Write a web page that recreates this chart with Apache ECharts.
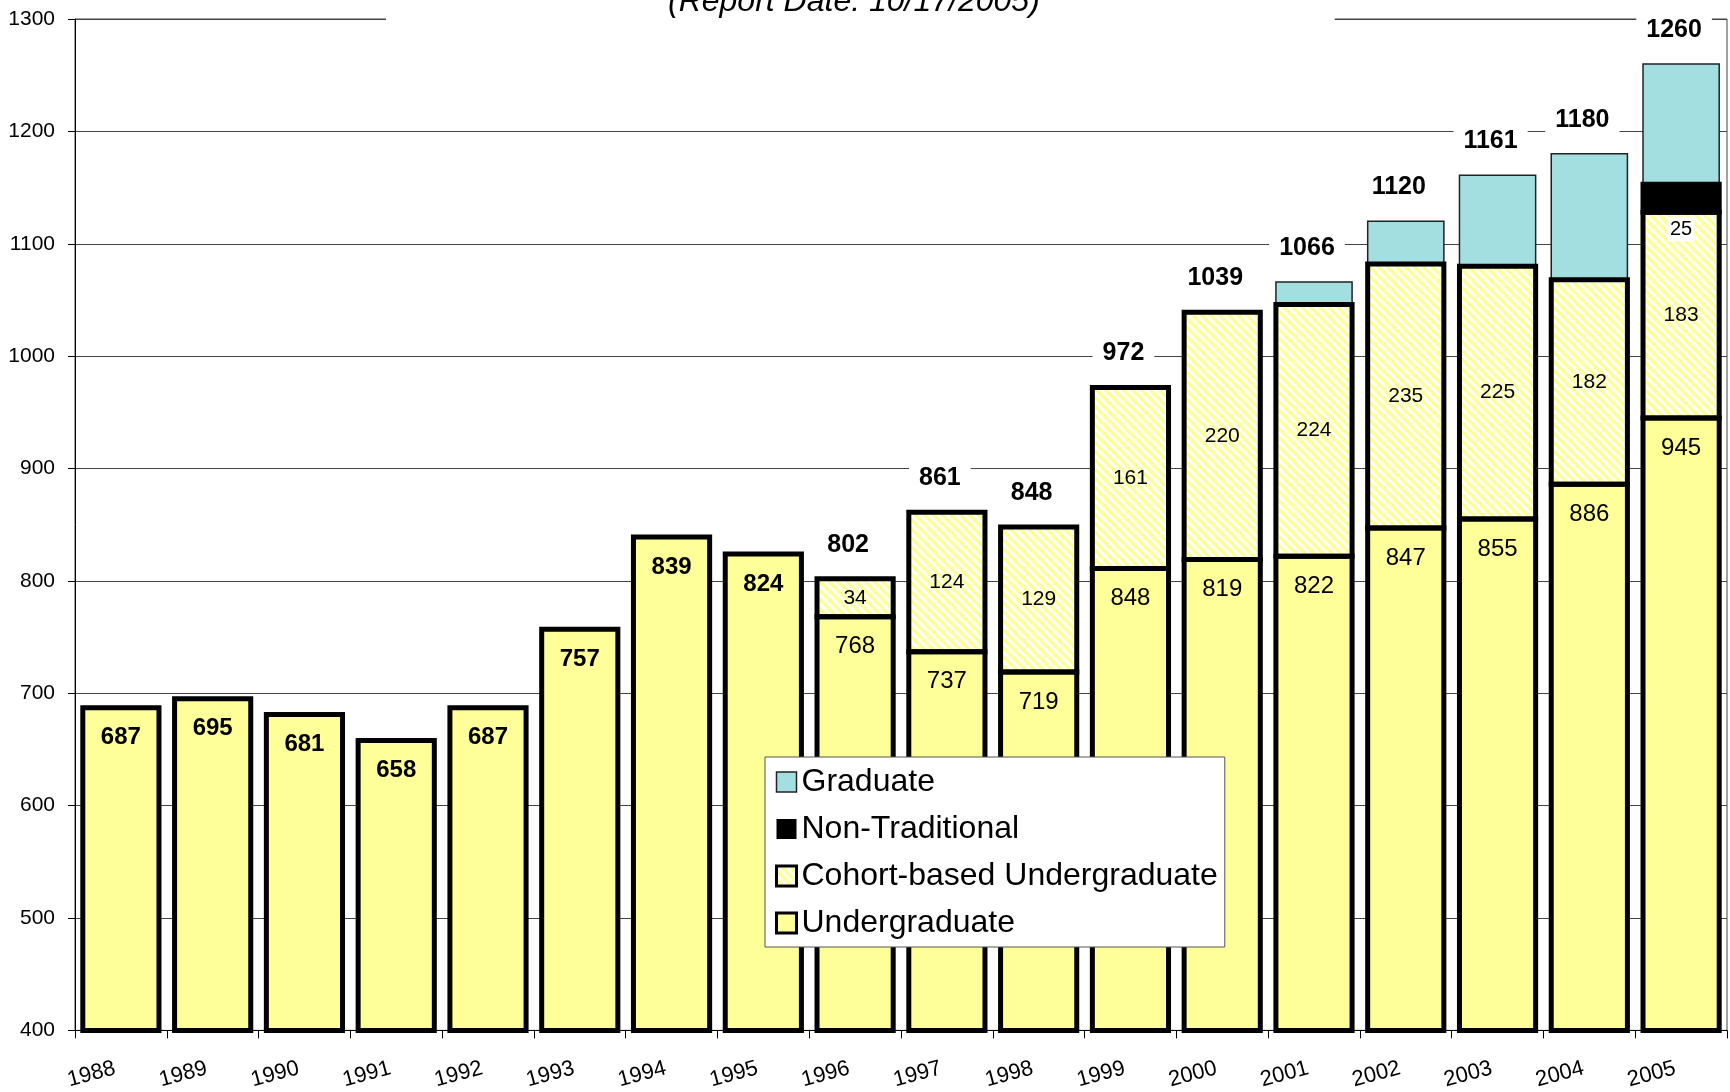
<!DOCTYPE html>
<html>
<head>
<meta charset="utf-8">
<script src="https://cdn.jsdelivr.net/npm/echarts@6/dist/echarts.min.js"></script>
<style>
  html, body { margin: 0; padding: 0; background: #fff; }
  #chart { width: 1730px; height: 1092px; }
</style>
</head>
<body>
<div id="chart"></div>
<script>
  // enrollment by year
  const years = ['1988', '1989', '1990', '1991', '1992', '1993', '1994', '1995', '1996',
    '1997', '1998', '1999', '2000', '2001', '2002', '2003', '2004', '2005']
  const undergrad = [687, 695, 681, 658, 687, 757, 839, 824, 768, 737, 719, 811, 819, 822, 847, 855, 886, 945]
  // printed labels (1999 bar is drawn at 811 but labelled 848 in the source)
  const undergradLabels = [687, 695, 681, 658, 687, 757, 839, 824, 768, 737, 719, 848, 819, 822, 847, 855, 886, 945]
  const cohort = [null, null, null, null, null, null, null, null, 34, 124, 129, 161, 220, 224, 235, 225, 182, 183]
  const nonTraditional = [null, null, null, null, null, null, null, null, null, null, null, null, null, null, null, null, null, 25]
  const graduate = [null, null, null, null, null, null, null, null, null, null, null, null, null, 20, 38, 81, 112, 107]
  const totals = [null, null, null, null, null, null, null, null, 802, 861, 848, 972, 1039, 1066, 1120, 1161, 1180, 1260]

  const FONT = '"Liberation Sans", Arial, sans-serif'
  const Y_MIN = 400
  const GAP = 0.17

  // diagonal yellow / white hatch
  function makeHatch() {
    const n = 9
    const c = document.createElement('canvas')
    c.width = n
    c.height = n
    const ctx = c.getContext('2d')
    ctx.fillStyle = '#FFFF99'
    ctx.fillRect(0, 0, n, n)
    ctx.strokeStyle = '#ffffff'
    ctx.lineWidth = 3
    for (let k = -n; k <= n; k += n) {
      ctx.beginPath()
      ctx.moveTo(k, 0)
      ctx.lineTo(k + n, n)
      ctx.stroke()
    }
    return c
  }
  const hatch = makeHatch()

  // early years: the label inside the bar is the total, shown bold
  const undergradData = undergrad.map((v, i) => (cohort[i] === null)
    ? { value: v, label: { fontWeight: 'bold' } }
    : v)

  // outlines are drawn separately so that a shared edge is one stroke, not two
  const stackOrder = [undergrad, cohort, nonTraditional, graduate]
  const outlineStyle = [
    { stroke: '#000', lineWidth: 5 },
    { stroke: '#000', lineWidth: 5 },
    { stroke: '#000', lineWidth: 5 },
    { stroke: '#222', lineWidth: 1.5 }
  ]
  const outlineData = []
  years.forEach((y, i) => {
    let base = 0
    stackOrder.forEach((vals, k) => {
      const v = vals[i]
      if (v == null) return
      outlineData.push([i, base, base + v, k])
      base += v
    })
  })
  outlineData.sort((a, b) => b[3] - a[3])

  const chart = echarts.init(document.getElementById('chart'))
  chart.setOption({
    animation: false,
    backgroundColor: '#fff',
    title: {
      text: '(Report Date: 10/17/2005)',
      left: 386,
      top: -14,
      padding: [0, 295, 6, 282],
      backgroundColor: '#fff',
      textStyle: {
        fontFamily: FONT,
        fontSize: 32,
        fontStyle: 'italic',
        fontWeight: 'normal',
        color: '#000'
      },
      z: 1
    },
    grid: {
      left: 75,
      right: 3,
      top: 19,
      bottom: 58,
      show: true,
      borderColor: '#444',
      borderWidth: 1
    },
    legend: {
      orient: 'vertical',
      left: 765,
      top: 757,
      padding: [9, 7, 8, 10],
      icon: 'rect',
      itemWidth: 20,
      itemHeight: 20,
      itemGap: 15,
      backgroundColor: '#fff',
      borderColor: '#555',
      borderWidth: 1,
      textStyle: { fontFamily: FONT, fontSize: 32, color: '#000' },
      z: 10,
      data: [
        { name: 'Graduate', itemStyle: { borderColor: '#222', borderWidth: 1.5 } },
        { name: 'Non-Traditional', itemStyle: { borderWidth: 0 } },
        { name: 'Cohort-based Undergraduate', itemStyle: { borderColor: '#000', borderWidth: 3 } },
        { name: 'Undergraduate', itemStyle: { borderColor: '#000', borderWidth: 3 } }
      ]
    },
    xAxis: {
      type: 'category',
      data: years,
      axisLine: { lineStyle: { color: '#000', width: 1 } },
      axisTick: { show: true, length: 8, lineStyle: { color: '#000' } },
      axisLabel: {
        rotate: 15,
        margin: 36,
        padding: [0, 6, 0, 0],
        fontFamily: FONT,
        fontSize: 22,
        color: '#000'
      },
      z: 5
    },
    yAxis: {
      type: 'value',
      min: Y_MIN,
      max: 1300,
      interval: 100,
      axisLine: { show: true, lineStyle: { color: '#000', width: 1 } },
      axisTick: { show: true, length: 7, lineStyle: { color: '#000' } },
      axisLabel: {
        margin: 20,
        fontFamily: FONT,
        fontSize: 21,
        color: '#000',
        formatter: v => String(v)
      },
      splitLine: { lineStyle: { color: '#444', width: 1 } }
    },
    series: [
      {
        name: 'Undergraduate',
        type: 'bar',
        stack: 'total',
        barCategoryGap: (GAP * 100) + '%',
        data: undergradData,
        itemStyle: { color: '#FFFF99' },
        label: {
          show: true,
          position: 'insideTop',
          distance: 18,
          fontFamily: FONT,
          fontSize: 24,
          color: '#000',
          formatter: p => String(undergradLabels[p.dataIndex])
        }
      },
      {
        name: 'Cohort-based Undergraduate',
        type: 'bar',
        stack: 'total',
        data: cohort,
        itemStyle: { color: { image: hatch, repeat: 'repeat' } },
        label: {
          show: true,
          position: 'inside',
          fontFamily: FONT,
          fontSize: 21,
          color: '#000'
        }
      },
      {
        name: 'Non-Traditional',
        type: 'bar',
        stack: 'total',
        data: nonTraditional,
        itemStyle: { color: '#000' },
        label: {
          show: true,
          position: 'inside',
          offset: [0, 31],
          fontFamily: FONT,
          fontSize: 20,
          color: '#000',
          backgroundColor: '#fff',
          padding: [2, 2]
        }
      },
      {
        name: 'Graduate',
        type: 'bar',
        stack: 'total',
        data: graduate,
        itemStyle: { color: '#A3DFE0' }
      },
      {
        name: 'Outline',
        type: 'custom',
        data: outlineData,
        encode: { x: 0, y: [1, 2] },
        silent: true,
        z: 3,
        renderItem: (params, api) => {
          const i = api.value(0)
          const lo = Math.max(api.value(1), Y_MIN)
          const hi = api.value(2)
          const st = outlineStyle[api.value(3)]
          const p0 = api.coord([i, lo])
          const p1 = api.coord([i, hi])
          const w = api.size([1, 0])[0] * (1 - GAP)
          return {
            type: 'rect',
            z2: 10,
            shape: { x: p0[0] - w / 2, y: p1[1], width: w, height: p0[1] - p1[1] },
            style: { fill: 'none', stroke: st.stroke, lineWidth: st.lineWidth }
          }
        }
      },
      {
        name: 'Total',
        type: 'scatter',
        data: totals,
        symbolSize: 1,
        itemStyle: { color: 'rgba(0,0,0,0)', opacity: 1 },
        label: {
          show: true,
          position: 'top',
          distance: 13,
          offset: [-7, 0],
          fontFamily: FONT,
          fontSize: 25,
          fontWeight: 'bold',
          color: '#000',
          backgroundColor: '#fff',
          padding: [8, 10, 8, 10]
        },
        z: 4
      }
    ]
  })
</script>
</body>
</html>
